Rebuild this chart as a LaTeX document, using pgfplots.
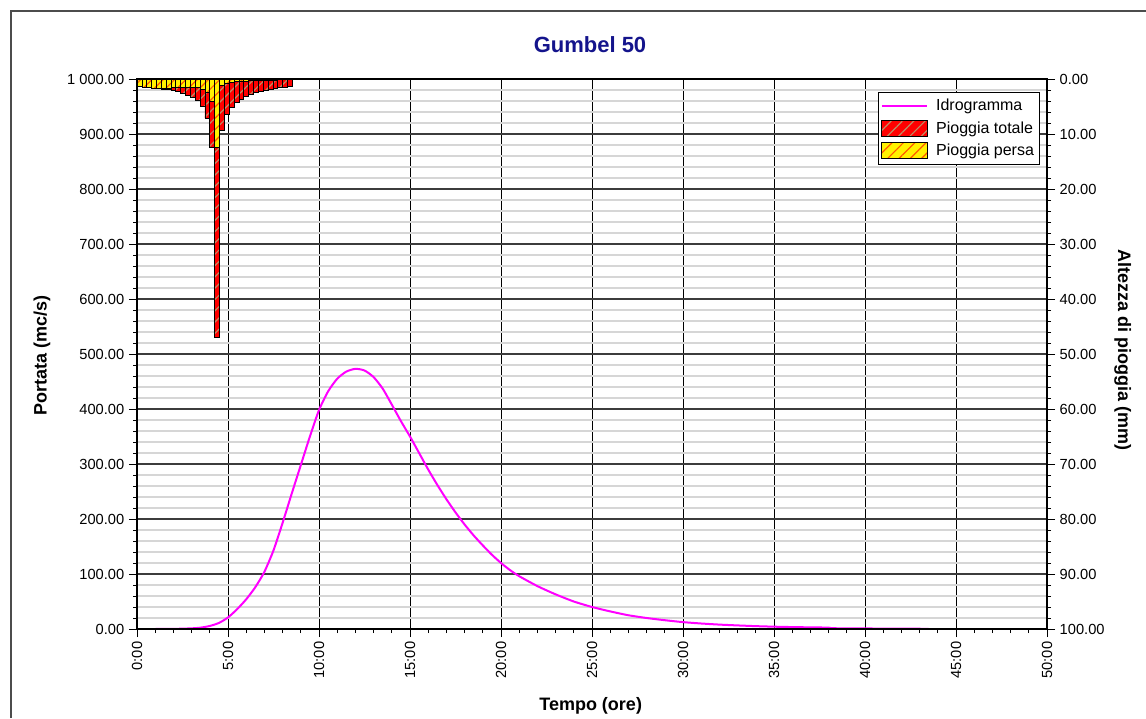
\documentclass[border=0pt]{standalone}
\usepackage{fontspec}
\setmainfont{Liberation Sans}
\usepackage{pgfplots}
\pgfplotsset{compat=1.18}
\usetikzlibrary{patterns.meta}
\definecolor{titleblue}{RGB}{20,20,140}
\definecolor{hydro}{RGB}{255,0,255}
\definecolor{hatchA}{RGB}{190,140,100}
\definecolor{hatchB}{RGB}{255,90,0}
\definecolor{minorgray}{RGB}{214,214,214}
\definecolor{majorgray}{RGB}{60,60,60}
\pgfplotsset{
 common/.style={
  at={(102.75pt,66.75pt)}, anchor=south west,
  scale only axis, width=682.5pt, height=412.5pt,
  xmin=0, xmax=50,
  tick align=outside,
  major tick length=6pt, minor tick length=3pt,
  every tick/.style={black, line width=0.7pt},
  every minor tick/.style={black, line width=0.7pt},
  axis line style={black, line width=1pt},
  tick label style={font=\fontsize{11}{13}\selectfont},
 },
 boxlegend/.style={legend image code/.code={\draw[##1] (0pt,-6pt) rectangle (34pt,6pt);}},
 linelegend/.style={legend image code/.code={\draw[##1] (0pt,0pt) -- (34pt,0pt);}},
}
\begin{document}
\begin{tikzpicture}
\useasboundingbox (0,0) rectangle (859.5pt,538.5pt);
\draw[line width=1.2pt, black!70] (8.25pt,0) -- (8.25pt,530.25pt) -- (859.5pt,530.25pt);
% axis A: x axis and vertical grid
\begin{axis}[common, ymin=0, ymax=1000, ytick=\empty,
 xtick={0,5,...,50}, minor x tick num=4, xtick pos=bottom,
 xticklabels={0:00,5:00,10:00,15:00,20:00,25:00,30:00,35:00,40:00,45:00,50:00},
 xticklabel style={rotate=90, anchor=east},
 xmajorgrids, major grid style={black, line width=0.75pt}]
\addplot[draw=none] coordinates {(0,0)};
\end{axis}
% axis B: discharge
\begin{axis}[common, ymin=0, ymax=1000, xtick=\empty,
 ytick={0,100,...,1000}, minor y tick num=4, ytick pos=left,
 yticklabels={0.00,100.00,200.00,300.00,400.00,500.00,600.00,700.00,800.00,900.00,1\ 000.00},
 yminorgrids, ymajorgrids,
 minor grid style={minorgray, line width=1.5pt},
 major grid style={majorgray, line width=1.1pt}]
\addplot[hydro, line width=1.5pt, smooth, tension=0.4] coordinates {
(0,0) (1,0) (2,0.2) (3,1.2) (3.5,2.5) (4,5.5) (4.5,11) (5,21) (5.5,36) (6,54) (6.5,76) (7,104) (7.5,143) (8,193) (8.5,246) (9,298) (9.5,350) (10,398) (10.5,432) (11,455) (11.5,468) (12,473) (12.5,470) (13,458) (13.5,437) (14,408) (14.5,378) (15,350) (15.5,320) (16,290) (16.5,262) (17,236) (17.5,212) (18,190) (18.5,170) (19,152) (19.5,135) (20,120) (20.5,107) (21,96) (22,78) (23,63) (24,50) (25,40) (26,32) (27,25) (28,20) (29,16) (30,12.5) (31,10) (32,8) (33,6.5) (34,5.2) (35,4.2) (36,3.5) (37,3) (38,2.5) (38.1,1.5) (40,1) (42,0.6) (43.5,0.4)
};
\end{axis}
% axis C: rainfall
\begin{axis}[common, ymin=0, ymax=100, y dir=reverse, xtick=\empty,
 ytick={0,10,...,100}, minor y tick num=4, ytick pos=right, yticklabel pos=right,
 yticklabels={0.00,10.00,20.00,30.00,40.00,50.00,60.00,70.00,80.00,90.00,100.00},
 legend style={at={(0.992,0.976)}, anchor=north east, draw=black, line width=0.6pt, fill=white,
   font=\fontsize{12}{14}\selectfont, row sep=2.5pt, inner xsep=2pt, inner ysep=3pt,
   /tikz/every odd column/.append style={column sep=4pt}},
 legend cell align=left]
\addlegendimage{hydro, line width=1.5pt, linelegend}
\addplot[ybar, bar width=0.266667, bar shift=0pt, fill=red, draw=black, line width=0.5pt,
  postaction={pattern={Lines[angle=45,distance=6pt,line width=0.9pt]}, pattern color=hatchA},
  boxlegend] coordinates {
(0.1333,1.4) (0.4,1.45) (0.6667,1.55) (0.9333,1.65) (1.2,1.72) (1.4667,1.8) (1.7333,1.95) (2.0,2.1) (2.2667,2.3) (2.5333,2.6) (2.8,2.95) (3.0667,3.4) (3.3333,3.9) (3.6,5.0) (3.8667,7.1) (4.1333,12.4) (4.4,47.0) (4.6667,9.3) (4.9333,6.5) (5.2,5.2) (5.4667,4.3) (5.7333,3.7) (6.0,3.2) (6.2667,2.8) (6.5333,2.45) (6.8,2.2) (7.0667,2.0) (7.3333,1.85) (7.6,1.7) (7.8667,1.6) (8.1333,1.5) (8.4,1.4)
};
\addplot[ybar, bar width=0.266667, bar shift=0pt, fill=yellow, draw=black, line width=0.5pt,
  postaction={pattern={Lines[angle=45,distance=6pt,line width=0.9pt]}, pattern color=hatchB},
  boxlegend] coordinates {
(0.1333,1.4) (0.4,1.45) (0.6667,1.55) (0.9333,1.65) (1.2,1.72) (1.4667,1.7) (1.7333,1.65) (2.0,1.6) (2.2667,1.55) (2.5333,1.5) (2.8,1.5) (3.0667,1.5) (3.3333,1.6) (3.6,1.9) (3.8667,2.5) (4.1333,4.0) (4.4,12.5) (4.6667,1.2) (4.9333,0.8) (5.2,0.6) (5.4667,0.5) (5.7333,0.42) (6.0,0.36) (6.2667,0.3) (6.5333,0.26) (6.8,0.23) (7.0667,0.2) (7.3333,0.18) (7.6,0.16) (7.8667,0.15) (8.1333,0.14) (8.4,0.13)
};
\legend{Idrogramma, Pioggia totale, Pioggia persa}
\end{axis}
\node[font=\fontsize{16.5}{19}\selectfont\bfseries, text=titleblue] at (442.5pt,504.75pt) {Gumbel 50};
\node[font=\fontsize{13.5}{16}\selectfont\bfseries, rotate=90] at (31.5pt,272.25pt) {Portata (mc/s)};
\node[font=\fontsize{13.5}{16}\selectfont\bfseries, rotate=-90] at (842pt,276pt) {Altezza di pioggia (mm)};
\node[font=\fontsize{13.5}{16}\selectfont\bfseries] at (443pt,9pt) {Tempo (ore)};
\end{tikzpicture}
\end{document}
